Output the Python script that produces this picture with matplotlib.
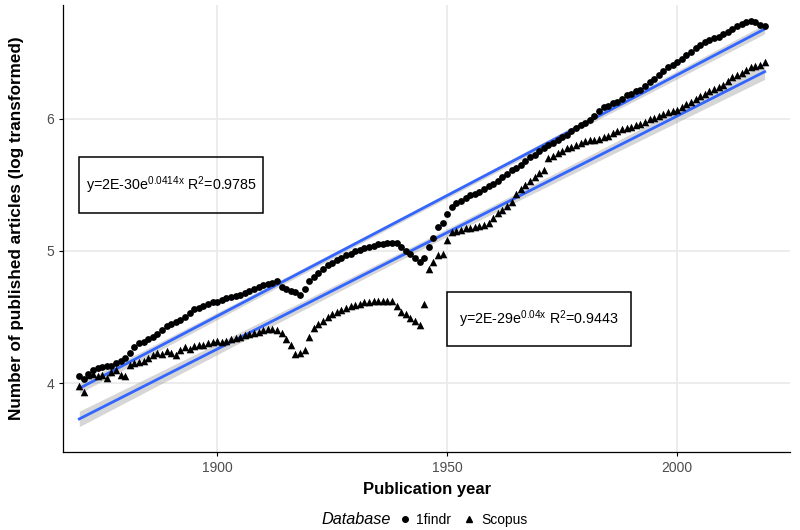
import matplotlib
matplotlib.use('Agg')
import matplotlib.pyplot as plt
import numpy as np
from matplotlib.patches import Rectangle
from matplotlib.lines import Line2D

plt.rcParams['font.family'] = ['Liberation Sans', 'DejaVu Sans']
plt.rcParams['mathtext.default'] = 'regular'

years = np.arange(1870, 2020)

# log10 of yearly article counts, 1findr
findr = [
    4.05, 4.03, 4.07, 4.10, 4.11, 4.12, 4.13, 4.13, 4.15, 4.17,
    4.19, 4.23, 4.27, 4.30, 4.31, 4.33, 4.35, 4.37, 4.40, 4.43,
    4.45, 4.46, 4.48, 4.50, 4.53, 4.56, 4.57, 4.58, 4.60, 4.61,
    4.61, 4.63, 4.64, 4.65, 4.66, 4.67, 4.68, 4.70, 4.71, 4.73,
    4.74, 4.75, 4.76, 4.77, 4.73, 4.71, 4.70, 4.69, 4.67, 4.71,
    4.77, 4.80, 4.83, 4.86, 4.89, 4.91, 4.93, 4.95, 4.97, 4.98,
    5.00, 5.01, 5.02, 5.03, 5.04, 5.05, 5.05, 5.06, 5.06, 5.06,
    5.03, 5.00, 4.98, 4.95, 4.92, 4.95, 5.03, 5.10, 5.18, 5.21,
    5.28, 5.33, 5.36, 5.38, 5.40, 5.42, 5.43, 5.45, 5.47, 5.49,
    5.51, 5.53, 5.56, 5.58, 5.61, 5.63, 5.65, 5.68, 5.71, 5.73,
    5.76, 5.78, 5.80, 5.82, 5.84, 5.86, 5.88, 5.91, 5.93, 5.95,
    5.97, 5.99, 6.02, 6.06, 6.09, 6.10, 6.12, 6.13, 6.15, 6.18,
    6.19, 6.21, 6.22, 6.25, 6.28, 6.30, 6.33, 6.36, 6.39, 6.41,
    6.43, 6.45, 6.48, 6.51, 6.54, 6.56, 6.58, 6.60, 6.61, 6.62,
    6.64, 6.66, 6.68, 6.70, 6.72, 6.73, 6.74, 6.73, 6.71, 6.70,
]

# log10 of yearly article counts, Scopus
scopus = [
    3.98, 3.93, 4.06, 4.07, 4.05, 4.06, 4.04, 4.08, 4.10, 4.06,
    4.05, 4.14, 4.15, 4.16, 4.17, 4.19, 4.21, 4.23, 4.22, 4.24,
    4.23, 4.21, 4.25, 4.27, 4.26, 4.28, 4.29, 4.29, 4.30, 4.31,
    4.32, 4.31, 4.32, 4.33, 4.34, 4.35, 4.36, 4.37, 4.38, 4.39,
    4.40, 4.41, 4.41, 4.40, 4.38, 4.33, 4.29, 4.22, 4.23, 4.25,
    4.35, 4.42, 4.45, 4.47, 4.50, 4.52, 4.54, 4.55, 4.57, 4.58,
    4.59, 4.60, 4.61, 4.61, 4.62, 4.62, 4.62, 4.62, 4.62, 4.58,
    4.54, 4.52, 4.49, 4.47, 4.44, 4.60, 4.86, 4.92, 4.97, 4.98,
    5.08, 5.14, 5.15, 5.16, 5.17, 5.17, 5.18, 5.19, 5.20, 5.21,
    5.25, 5.29, 5.31, 5.34, 5.37, 5.43, 5.47, 5.50, 5.53, 5.56,
    5.59, 5.61, 5.70, 5.72, 5.74, 5.76, 5.78, 5.79, 5.80, 5.82,
    5.83, 5.84, 5.84, 5.85, 5.86, 5.87, 5.89, 5.91, 5.92, 5.93,
    5.94, 5.95, 5.96, 5.98, 6.00, 6.01, 6.02, 6.04, 6.05, 6.06,
    6.07, 6.09, 6.11, 6.13, 6.15, 6.17, 6.19, 6.21, 6.23, 6.24,
    6.26, 6.29, 6.32, 6.33, 6.35, 6.37, 6.39, 6.40, 6.41, 6.43,
]

labels = ['1findr', 'Scopus']
equations = [r'y=2E-30e$^{0.0414x}$ R$^2$=0.9785', r'y=2E-29e$^{0.04x}$ R$^2$=0.9443']
# annotation boxes: xmin, xmax, ymin, ymax
boxes = [(1870, 1910, 5.29, 5.71), (1950, 1990, 4.28, 4.69)]

fig = plt.figure(figsize=(8, 5.3), dpi=100)
ax = fig.add_axes([0.079, 0.147, 0.909, 0.844])


def fit_band(x, y):
    x = np.asarray(x, float)
    y = np.asarray(y, float)
    b, a = np.polyfit(x, y, 1)
    yhat = a + b * x
    n = len(x)
    s = np.sqrt(np.sum((y - yhat) ** 2) / (n - 2))
    se = s * np.sqrt(1 / n + (x - x.mean()) ** 2 / np.sum((x - x.mean()) ** 2))
    return yhat, 1.976 * se


# regression lines with confidence ribbons
for series in [findr, scopus]:
    yhat, ci = fit_band(years, series)
    ax.fill_between(years, yhat - ci, yhat + ci, color='#999999', alpha=0.4, lw=0, zorder=2)
    ax.plot(years, yhat, color='#3366FF', lw=2.0, zorder=3)

ax.scatter(years, findr, marker='o', s=24, color='black', lw=0, zorder=4)
ax.scatter(years, scopus, marker='^', s=30, color='black', lw=0, zorder=4)

for (x0, x1, y0, y1), eq in zip(boxes, equations):
    ax.add_patch(Rectangle((x0, y0), x1 - x0, y1 - y0, fill=False, ec='black', lw=1.1, zorder=5))
    ax.text((x0 + x1) / 2, (y0 + y1) / 2, eq, ha='center', va='center', fontsize=10.3, zorder=6)

ax.set_xlim(1866.5, 2024.6)
ax.set_ylim(3.477, 6.864)
ax.set_xticks([1900, 1950, 2000])
ax.set_yticks([4, 5, 6])
ax.grid(True, color='#EBEBEB', lw=1.3, zorder=0)
ax.set_axisbelow(True)
for side in ['top', 'right']:
    ax.spines[side].set_visible(False)
for side in ['left', 'bottom']:
    ax.spines[side].set_linewidth(0.9)
ax.tick_params(length=3, width=0.8, labelsize=10, labelcolor='#4D4D4D')

ax.set_xlabel('Publication year', fontsize=12, fontweight='bold', labelpad=5)
ax.set_ylabel('Number of published articles (log transformed)', fontsize=12.3, fontweight='bold', labelpad=16)

# legend at the bottom, title on the left
fig.text(0.489, 0.019, 'Database', fontsize=11.7, style='italic', ha='right', va='center')
handles = [Line2D([], [], marker='o', ls='', color='black', ms=4),
           Line2D([], [], marker='^', ls='', color='black', ms=5)]
fig.legend(handles, labels, loc='center left', bbox_to_anchor=(0.497, 0.019), ncol=2,
           frameon=False, fontsize=10, handlelength=1.0, handletextpad=0.35, columnspacing=0.8,
           borderpad=0, borderaxespad=0)

fig.savefig('out.png', dpi=100)
